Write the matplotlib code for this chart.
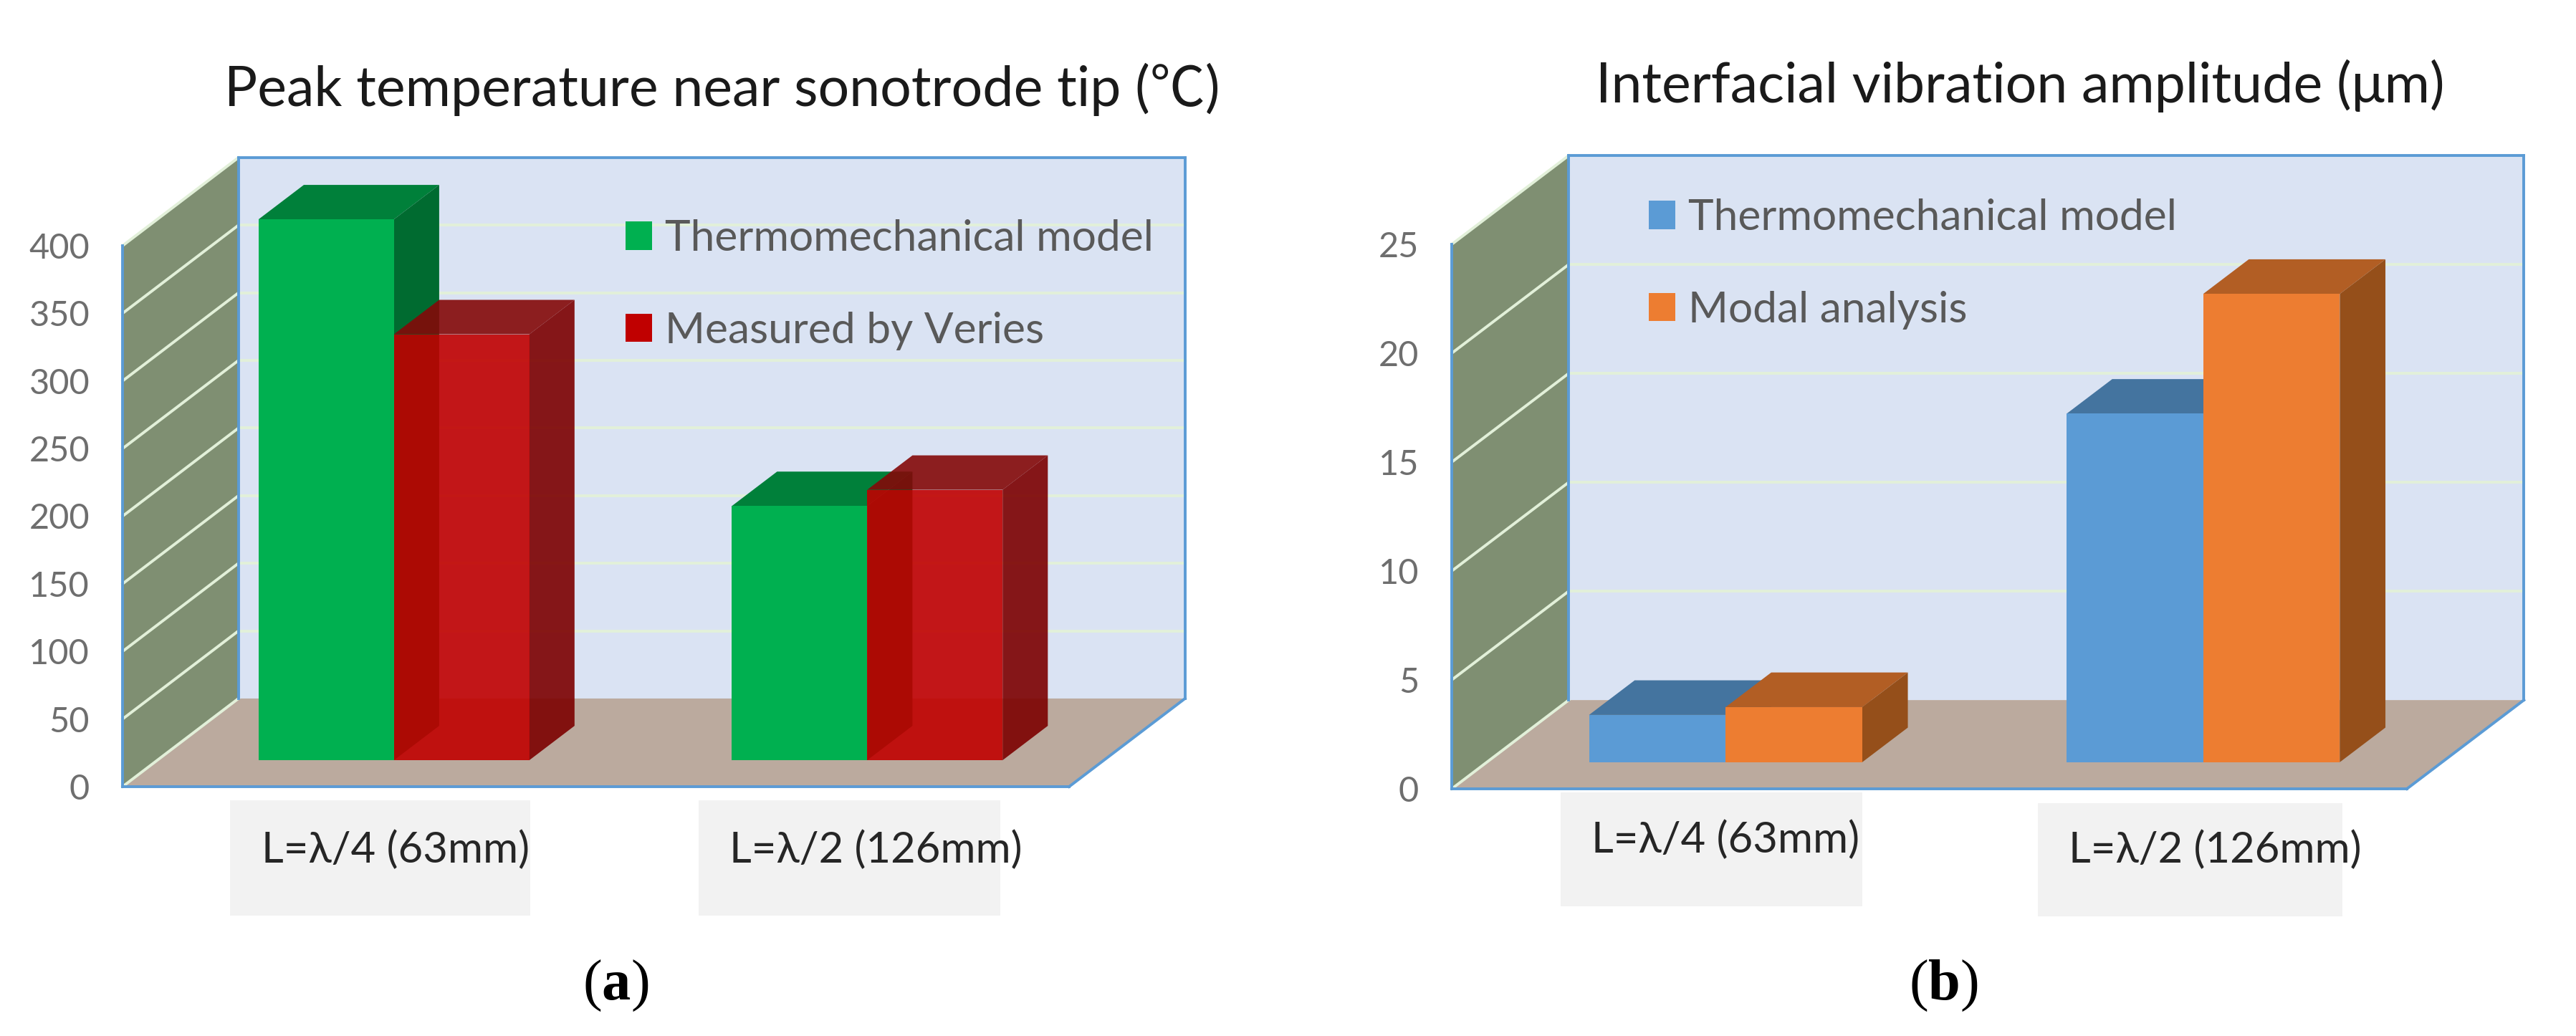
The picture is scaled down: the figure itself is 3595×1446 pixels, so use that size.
import matplotlib
matplotlib.use('Agg')
import matplotlib.pyplot as plt
from matplotlib.patches import Patch, Rectangle

plt.rcParams['font.family'] = ['Lato', 'Noto Sans CJK SC', 'DejaVu Sans']
plt.rcParams['mathtext.fontset'] = 'custom'
plt.rcParams['mathtext.rm'] = 'Liberation Serif'
plt.rcParams['mathtext.bf'] = 'Liberation Serif:bold'

W, H = 3595, 1446

# data
categories = ['L=λ/4 (63mm)', 'L=λ/2 (126mm)']
temp_ticks = [0, 50, 100, 150, 200, 250, 300, 350, 400]
temp_model = [400, 188]
temp_measured = [315, 200]
temp_labels = ['Thermomechanical model', 'Measured by Veries']
amp_ticks = [0, 5, 10, 15, 20, 25]
amp_model = [2.17, 16.0]
amp_modal = [2.53, 21.5]
amp_labels = ['Thermomechanical model', 'Modal analysis']

# fake 3D look: depth z runs 0..1 from the front plane to the back wall
DEPTH_X = 0.245   # category units at z=1
DEPTH_Y = 0.163   # fraction of the y range at z=1
Z_FRONT, Z_BACK = 0.30, 0.69
BAR_W = 0.286

WALL = '#7f8f72'
BACK = '#dae3f3'
FLOOR = '#bbaa9e'
EDGE = '#5b9bd5'
GRID = '#e2f0d9'
TICK = '#595959'

fig = plt.figure(figsize=(W / 100, H / 100), dpi=100)


def fx(px):
    return px / W


def fy(py):
    return 1 - py / H


def draw_panel(rect, ticks, series, labels, colors, title, title_xy, legend_xy, boxes, label_pos, tag, tag_xy):
    left, top, right, bottom = rect
    ax = fig.add_axes([fx(left), fy(bottom), fx(right - left), (bottom - top) / H])
    ymax = ticks[-1]
    ax.set_xlim(0, 2)
    ax.set_ylim(0, ymax)
    ax.patch.set_visible(False)

    def pr(x, y, z):
        return x + z * DEPTH_X, y + z * DEPTH_Y * ymax

    def poly(pts, **kw):
        xs, ys = zip(*[pr(*p) for p in pts])
        ax.fill(xs, ys, clip_on=False, **kw)

    # walls and floor
    poly([(0, 0, 0), (0, 0, 1), (0, ymax, 1), (0, ymax, 0)], fc=WALL, ec='none', zorder=1)
    poly([(0, 0, 1), (2, 0, 1), (2, ymax, 1), (0, ymax, 1)], fc=BACK, ec='none', zorder=1)
    poly([(0, 0, 0), (2, 0, 0), (2, 0, 1), (0, 0, 1)], fc=FLOOR, ec='none', zorder=1)

    # gridlines go along the side wall and then across the back wall
    for t in ticks[1:]:
        xs, ys = zip(pr(0, t, 0), pr(0, t, 1))
        ax.plot(xs, ys, color=GRID, lw=2.8, clip_on=False, zorder=2)
        if t != ymax:
            xs, ys = zip(pr(0, t, 1), pr(2, t, 1))
            ax.plot(xs, ys, color=GRID, lw=2.8, clip_on=False, zorder=2)
    xs, ys = zip(pr(0, 0, 0), pr(0, 0, 1))
    ax.plot(xs, ys, color=GRID, lw=2.8, clip_on=False, zorder=2)

    # blue frame
    for a, b in [((0, 0, 1), (0, ymax, 1)), ((0, ymax, 1), (2, ymax, 1)), ((2, ymax, 1), (2, 0, 1)),
                 ((2, 0, 0), (2, 0, 1))]:
        xs, ys = zip(pr(*a), pr(*b))
        ax.plot(xs, ys, color=EDGE, lw=2.8, clip_on=False, zorder=2)

    # bars
    z = 3
    for i in range(len(series)):
        vals = series[i]
        front, top_c, side, alpha = colors[i]
        for c in range(2):
            x0 = 0.5 + c - BAR_W + i * BAR_W
            x1 = x0 + BAR_W
            v = vals[c]
            poly([(x0, v, Z_FRONT), (x1, v, Z_FRONT), (x1, v, Z_BACK), (x0, v, Z_BACK)],
                 fc=top_c, ec='none', alpha=alpha, zorder=z)
            poly([(x1, 0, Z_FRONT), (x1, 0, Z_BACK), (x1, v, Z_BACK), (x1, v, Z_FRONT)],
                 fc=side, ec='none', alpha=alpha, zorder=z)
            sx, sy = pr(x0, 0, Z_FRONT)
            ax.bar(sx, v, bottom=sy, width=BAR_W, align='edge', color=front, alpha=alpha,
                   clip_on=False, zorder=z + 0.5)
        z += 1

    for s in ['top', 'right']:
        ax.spines[s].set_visible(False)
    for s in ['left', 'bottom']:
        ax.spines[s].set_color(EDGE)
        ax.spines[s].set_linewidth(2.8)
        ax.spines[s].set_zorder(2.5)
    ax.set_xticks([])
    ax.set_yticks(ticks)
    ax.tick_params(axis='y', length=0, pad=33, labelsize=35, labelcolor='#6e6e6e')

    fig.text(fx(title_xy[0]), fy(title_xy[1]), title, fontsize=55.5, color='#1a1a1a', ha='left', va='center')

    handles = [Patch(fc=colors[i][0], ec='none', label=labels[i]) for i in range(len(series))]
    fig.legend(handles=handles, loc='upper left', bbox_to_anchor=(fx(legend_xy[0]), fy(legend_xy[1])),
               bbox_transform=fig.transFigure, frameon=False, fontsize=43.5, labelcolor=TICK,
               borderpad=0, borderaxespad=0, handlelength=0.61, handleheight=0.63,
               labelspacing=1.24, handletextpad=0.3)

    for (x0, y0, x1, y1) in boxes:
        fig.add_artist(Rectangle((fx(x0), fy(y1)), fx(x1 - x0), (y1 - y0) / H, transform=fig.transFigure,
                                 fc='#f2f2f2', ec='none', zorder=0))
    for j in range(2):
        fig.text(fx(label_pos[j][0]), fy(label_pos[j][1]), categories[j], fontsize=43, color='#262626',
                 ha='left', va='center')

    fig.text(fx(tag_xy[0]), fy(tag_xy[1]), tag, fontsize=58, color='black', ha='center', va='center')


draw_panel((171, 343, 1492, 1098), temp_ticks, [temp_model, temp_measured], temp_labels,
           [('#00b050', '#00803a', '#006b30', 1.0),
            ('#c00000', '#840808', '#7c0000', 0.9)],
           'Peak temperature near sonotrode tip (℃)', (313, 125), (873, 306),
           [(321, 1117, 740, 1278), (975, 1117, 1396, 1278)],
           [(365, 1186), (1018, 1186)], r'$\mathrm{(}\mathbf{a}\mathrm{)}$', (859, 1376))

draw_panel((2026, 341, 3359, 1101), amp_ticks, [amp_model, amp_modal], amp_labels,
           [('#5b9bd5', '#44749f', '#44749f', 1.0),
            ('#ed7d31', '#b25e24', '#954f1a', 1.0)],
           'Interfacial vibration amplitude (μm)', (2227, 120), (2301, 277),
           [(2178, 1106, 2599, 1265), (2844, 1121, 3269, 1279)],
           [(2221, 1172), (2887, 1186)], r'$\mathrm{(}\mathbf{b}\mathrm{)}$', (2712, 1376))

fig.savefig('out.png', dpi=100, facecolor='white')
